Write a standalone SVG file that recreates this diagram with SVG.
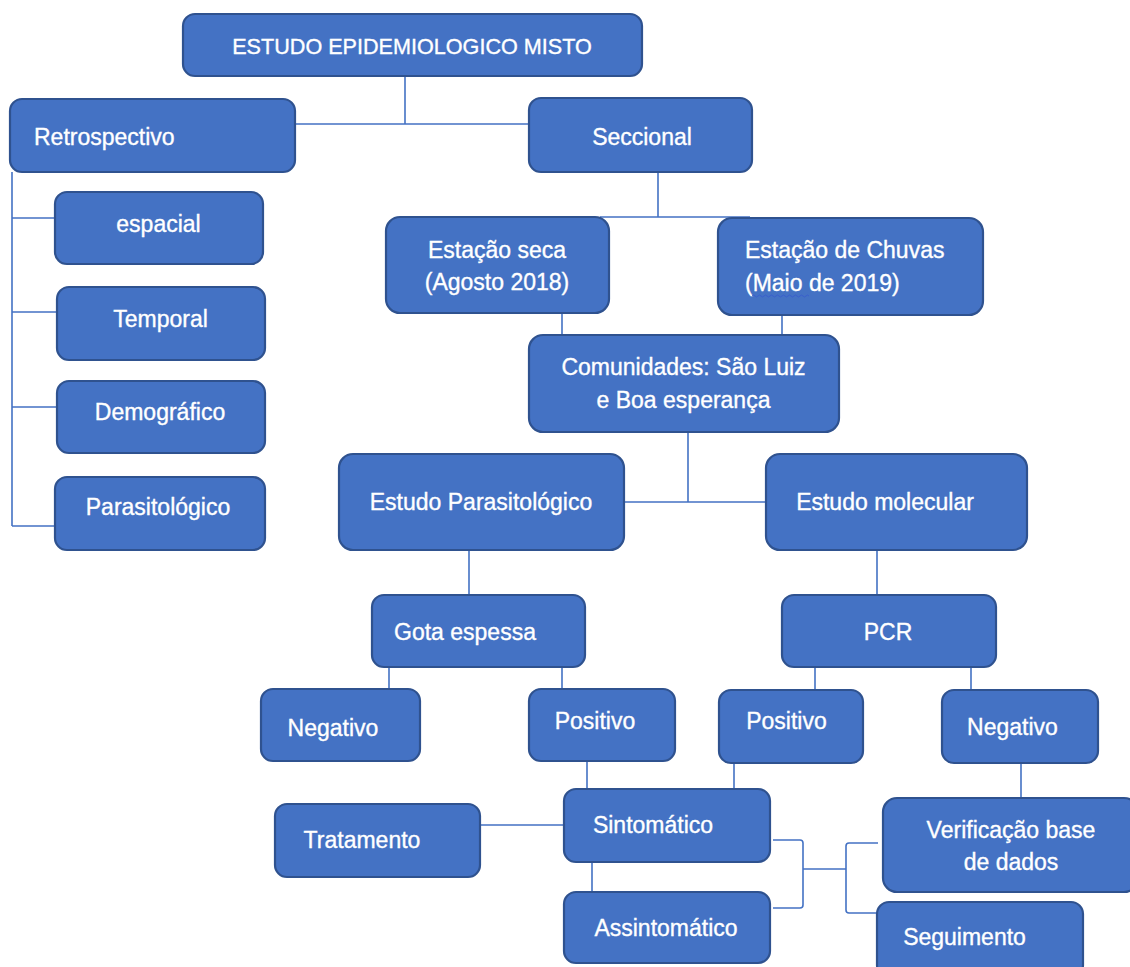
<svg xmlns="http://www.w3.org/2000/svg" width="1130" height="967" viewBox="0 0 1130 967">
<style>
.box{fill:#4472C4;stroke:#2F528F;stroke-width:2.2}
.t{font-family:"Liberation Sans",Arial,sans-serif;font-size:23px;fill:#FFFFFF;stroke:#FFFFFF;stroke-width:0.35;text-anchor:middle}
.s{text-anchor:start}
.c{fill:none;stroke:#4472C4;stroke-width:1.6}
</style>
<rect width="1130" height="967" fill="#FFFFFF"/>
<g id="connectors">
<path class="c" d="M405,77V124M295,124H529"/>
<path class="c" d="M12,172V526M12,218H55M12,312H57M12,407H57M12,526H55"/>
<path class="c" d="M658,172V217M600,217H750"/>
<path class="c" d="M562,313V335M782,315V335"/>
<path class="c" d="M688,432V502M624,502H766"/>
<path class="c" d="M469,550V595M877,550V595"/>
<path class="c" d="M389,667V689M562,667V689M815,667V690M971,667V690"/>
<path class="c" d="M587,761V789M734,763V789M1021,763V798"/>
<path class="c" d="M480,825H564M592,862V892"/>
<path class="c" d="M773,840H800Q803,840 803,843V905Q803,908 800,908H773M803,869H846M878,843H849Q846,843 846,846V910Q846,913 849,913H877"/>
</g>
<g id="n-title"><rect class="box" x="183" y="14" width="459" height="62" rx="12"/><text class="t" x="412" y="54" style="font-size:21.6px">ESTUDO EPIDEMIOLOGICO MISTO</text></g>
<g id="n-retro"><rect class="box" x="10" y="99" width="285" height="73" rx="12"/><text class="t s" x="34" y="145">Retrospectivo</text></g>
<g id="n-seccional"><rect class="box" x="529" y="98" width="223" height="74" rx="12"/><text class="t" x="642" y="145">Seccional</text></g>
<g id="n-espacial"><rect class="box" x="55" y="192" width="208" height="72" rx="12"/><text class="t" x="158.5" y="232">espacial</text></g>
<g id="n-temporal"><rect class="box" x="57" y="287" width="208" height="73" rx="12"/><text class="t" x="160.5" y="327">Temporal</text></g>
<g id="n-demografico"><rect class="box" x="57" y="381" width="208" height="72" rx="12"/><text class="t" x="160" y="420">Demográfico</text></g>
<g id="n-parasitologico"><rect class="box" x="55" y="477" width="210" height="73" rx="12"/><text class="t" x="158" y="515">Parasitológico</text></g>
<g id="n-seca"><rect class="box" x="386" y="217" width="223" height="96" rx="14"/><text class="t" x="497" y="258">Estação seca</text><text class="t" x="497" y="290">(Agosto 2018)</text></g>
<g id="n-chuvas"><rect class="box" x="718" y="218" width="265" height="97" rx="14"/><text class="t s" x="745" y="258">Estação de Chuvas</text><text class="t s" x="745" y="291">(Maio de 2019)</text><path d="M752,296q1.5,-2 3,0t3,0t3,0t3,0t3,0t3,0t3,0t3,0t3,0t3,0t3,0t3,0t3,0t3,0t3,0t3,0t3,0t3,0t3,0" fill="none" stroke="#3A5FCD" stroke-width="1"/></g>
<g id="n-comunidades"><rect class="box" x="529" y="335" width="310" height="97" rx="14"/><text class="t" x="683.5" y="375">Comunidades: São Luiz</text><text class="t" x="683.5" y="408">e Boa esperança</text></g>
<g id="n-estpar"><rect class="box" x="339" y="454" width="285" height="96" rx="14"/><text class="t" x="481" y="510">Estudo Parasitológico</text></g>
<g id="n-estmol"><rect class="box" x="766" y="454" width="261" height="96" rx="14"/><text class="t" x="885" y="510">Estudo molecular</text></g>
<g id="n-gota"><rect class="box" x="372" y="595" width="213" height="72" rx="12"/><text class="t" x="465" y="640">Gota espessa</text></g>
<g id="n-pcr"><rect class="box" x="782" y="595" width="214" height="72" rx="12"/><text class="t" x="888" y="640">PCR</text></g>
<g id="n-neg1"><rect class="box" x="261" y="689" width="159" height="72" rx="12"/><text class="t" x="333" y="736">Negativo</text></g>
<g id="n-pos1"><rect class="box" x="529" y="689" width="146" height="72" rx="12"/><text class="t" x="595" y="729">Positivo</text></g>
<g id="n-pos2"><rect class="box" x="719" y="690" width="144" height="73" rx="12"/><text class="t" x="786.5" y="729">Positivo</text></g>
<g id="n-neg2"><rect class="box" x="942" y="690" width="156" height="73" rx="12"/><text class="t" x="1012.5" y="735">Negativo</text></g>
<g id="n-tratamento"><rect class="box" x="275" y="804" width="205" height="73" rx="12"/><text class="t" x="362" y="848">Tratamento</text></g>
<g id="n-sintomatico"><rect class="box" x="564" y="789" width="206" height="73" rx="12"/><text class="t" x="653" y="833">Sintomático</text></g>
<g id="n-assintomatico"><rect class="box" x="564" y="892" width="206" height="71" rx="12"/><text class="t" x="666" y="936">Assintomático</text></g>
<g id="n-verificacao"><rect class="box" x="883" y="798" width="255" height="94" rx="14"/><text class="t" x="1011" y="838">Verificação base</text><text class="t" x="1011" y="870">de dados</text></g>
<g id="n-seguimento"><rect class="box" x="877" y="902" width="206" height="75" rx="12"/><text class="t" x="964.5" y="945">Seguimento</text></g>
</svg>
